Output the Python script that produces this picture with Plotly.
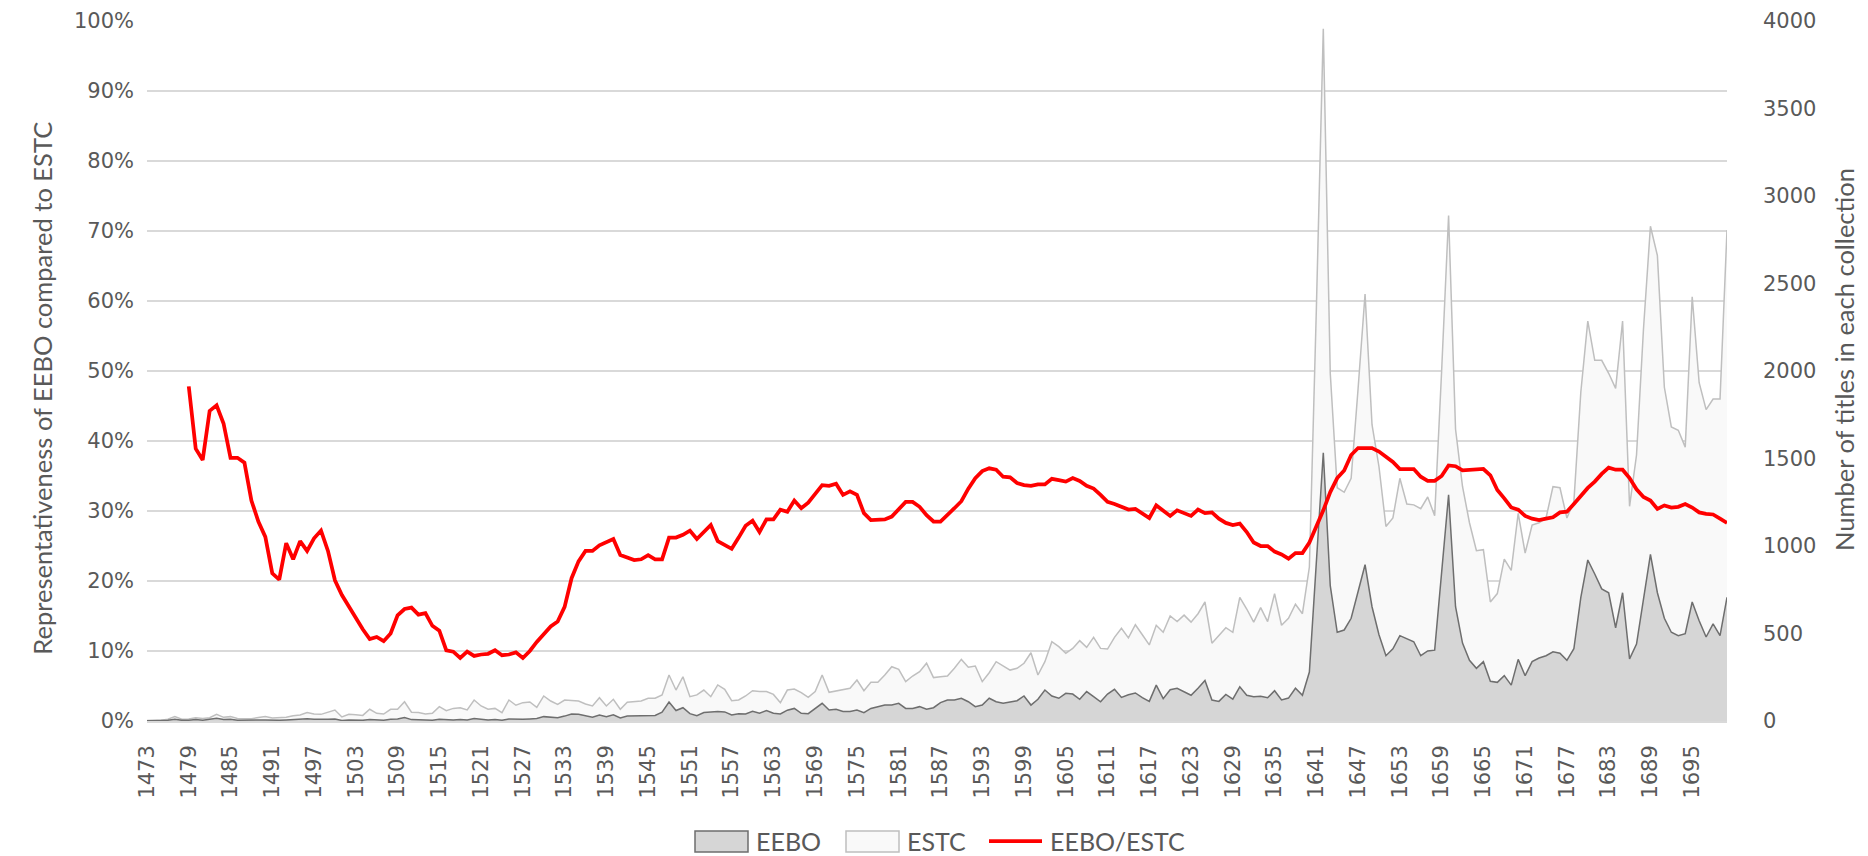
import plotly.graph_objects as go

# ---------------- data ----------------
years = list(range(1473, 1701))

# ESTC titles per year (right axis)
estc = [
    3, 3, 5, 10, 25, 10, 12,                                   # 1473-1479
    19, 15, 19, 38, 21, 25, 15, 13, 13, 20,                    # 1480s
    25, 17, 17, 21, 30, 34, 48, 40, 38, 50,                    # 1490s
    63, 23, 38, 36, 32, 67, 44, 40, 67, 67,                    # 1500s
    110, 50, 48, 40, 44, 82, 59, 72, 76, 63,                   # 1510s
    120, 86, 67, 72, 48, 120, 90, 105, 109, 78,                # 1520s
    143, 114, 95, 120, 116, 114, 97, 86, 133, 86,              # 1530s
    124, 67, 107, 110, 114, 130, 130, 149, 263, 177,           # 1540s
    253, 139, 149, 177, 139, 206, 181, 116, 120, 143,          # 1550s
    173, 168, 168, 152, 105, 177, 183, 162, 135, 168,          # 1560s
    263, 164, 173, 181, 187, 234, 173, 221, 221, 263,          # 1570s
    310, 295, 225, 257, 282, 330, 248, 253, 257, 301,          # 1580s
    352, 307, 314, 225, 276, 339, 314, 291, 301, 330,          # 1590s
    390, 263, 339, 453, 425, 387, 415, 459, 421, 478,          # 1600s
    415, 411, 478, 530, 475, 550, 493, 435, 547, 507,          # 1610s
    600, 568, 605, 565, 613, 680, 445, 488, 533, 507,          # 1620s
    707, 640, 565, 648, 568, 728, 547, 587, 667, 613,          # 1630s
    880, 2350, 3955, 1987, 1333, 1307, 1387, 1900, 2440, 1693, # 1640s
    1453, 1112, 1160, 1387, 1240, 1235, 1213, 1280, 1173, 2000,# 1650s
    2888, 1667, 1340, 1133, 973, 979, 680, 728, 925, 861,      # 1660s
    1187, 960, 1120, 1133, 1160, 1339, 1333, 1160, 1253, 1880, # 1670s
    2285, 2061, 2061, 1987, 1901, 2285, 1227, 1520, 2240, 2827,# 1680s
    2659, 1907, 1680, 1661, 1565, 2424, 1933, 1779, 1840, 1840,# 1690s
    2805,                                                      # 1700
]

# EEBO titles per year (right axis)
eebo = [
    2, 2, 3, 5, 10, 4, 5,                                      # 1473-1479
    8, 5, 8, 15, 8, 10, 5, 4, 4, 6,                            # 1480s
    6, 4, 4, 6, 8, 9, 13, 10, 9, 10,                           # 1490s
    12, 3, 6, 5, 4, 8, 5, 5, 10, 12,                           # 1500s
    20, 8, 7, 6, 5, 10, 6, 6, 8, 6,                            # 1510s
    14, 8, 6, 8, 5, 12, 9, 10, 12, 14,                         # 1520s
    25, 20, 18, 28, 40, 38, 28, 22, 34, 25,                    # 1530s
    35, 17, 28, 30, 28, 34, 32, 50, 108, 60,                   # 1540s
    76, 42, 30, 48, 50, 55, 52, 34, 42, 40,                    # 1550s
    55, 44, 60, 44, 40, 62, 72, 44, 42, 72,                    # 1560s
    101, 63, 67, 55, 55, 63, 48, 72, 82, 91,                   # 1570s
    91, 101, 72, 72, 82, 67, 76, 105, 120, 120,                # 1580s
    130, 110, 82, 91, 130, 110, 101, 110, 116, 143,            # 1590s
    91, 124, 177, 143, 130, 158, 154, 124, 168, 139,           # 1600s
    110, 154, 181, 135, 150, 160, 133, 112, 205, 128,          # 1610s
    179, 187, 168, 147, 187, 232, 120, 112, 152, 125,          # 1620s
    195, 147, 139, 141, 133, 173, 120, 131, 187, 147,          # 1630s
    280, 900, 1533, 773, 507, 520, 587, 740, 893, 653,         # 1640s
    493, 373, 413, 488, 472, 453, 373, 400, 405, 850,          # 1650s
    1293, 653, 445, 347, 301, 339, 227, 221, 259, 205,         # 1660s
    352, 259, 339, 360, 373, 395, 387, 347, 413, 707,          # 1670s
    920, 840, 755, 733, 533, 733, 355, 440, 707, 952,          # 1680s
    733, 587, 507, 488, 499, 680, 573, 480, 555, 488,          # 1690s
    707,                                                       # 1700
]

# EEBO/ESTC representativeness in % (left axis); no value before 1479
ratio_pct = [
    None, None, None, None, None, None, 47.8,                              # 1473-1479
    38.9, 37.3, 44.3, 45.1, 42.5, 37.6, 37.6, 36.9, 31.5, 28.5,            # 1480s
    26.3, 21.1, 20.2, 25.4, 23.1, 25.7, 24.3, 26.1, 27.2, 24.3,            # 1490s
    20.1, 18.0, 16.3, 14.7, 13.1, 11.7, 12.0, 11.4, 12.5, 15.1,            # 1500s
    16.0, 16.2, 15.2, 15.4, 13.6, 12.9, 10.1, 9.9, 9.0, 9.9,               # 1510s
    9.3, 9.5, 9.6, 10.1, 9.4, 9.5, 9.8, 9.0, 10.0, 11.3,                   # 1520s
    12.4, 13.5, 14.2, 16.3, 20.4, 22.8, 24.3, 24.3, 25.1, 25.6,            # 1530s
    26.0, 23.7, 23.3, 23.0, 23.1, 23.7, 23.1, 23.1, 26.2, 26.2,            # 1540s
    26.6, 27.2, 26.0, 27.0, 28.0, 25.7, 25.2, 24.6, 26.2, 27.9,            # 1550s
    28.6, 27.0, 28.8, 28.8, 30.2, 29.9, 31.5, 30.4, 31.2, 32.5,            # 1560s
    33.7, 33.6, 33.9, 32.3, 32.8, 32.3, 29.7, 28.7, 28.8, 28.8,            # 1570s
    29.2, 30.2, 31.3, 31.3, 30.6, 29.4, 28.5, 28.5, 29.4, 30.4,            # 1580s
    31.4, 33.2, 34.7, 35.7, 36.1, 35.9, 34.9, 34.8, 34.0, 33.7,            # 1590s
    33.6, 33.8, 33.8, 34.6, 34.4, 34.2, 34.7, 34.3, 33.6, 33.2,            # 1600s
    32.3, 31.3, 31.0, 30.6, 30.2, 30.3, 29.7, 29.0, 30.8, 30.0,            # 1610s
    29.3, 30.1, 29.7, 29.3, 30.2, 29.7, 29.8, 28.9, 28.3, 28.0,            # 1620s
    28.2, 27.0, 25.5, 25.0, 25.0, 24.2, 23.8, 23.2, 24.0, 24.0,            # 1630s
    25.5, 27.7, 30.1, 32.7, 34.7, 35.8, 38.0, 39.0, 39.0, 39.0,            # 1640s
    38.5, 37.8, 37.0, 36.0, 36.0, 36.0, 34.9, 34.3, 34.3, 35.0,            # 1650s
    36.5, 36.4, 35.8, 35.9, 36.0, 36.0, 35.1, 33.0, 31.8, 30.5,            # 1660s
    30.2, 29.3, 28.9, 28.7, 28.9, 29.1, 29.8, 29.9, 31.0, 32.2,            # 1670s
    33.3, 34.2, 35.3, 36.2, 35.9, 35.9, 34.7, 33.1, 32.0, 31.5,            # 1680s
    30.3, 30.8, 30.5, 30.6, 31.0, 30.5, 29.8, 29.6, 29.5, 28.9,            # 1690s
    28.3,                                                                  # 1700
]

x_tick_years = list(range(1473, 1700, 6))
pct_ticks = list(range(0, 101, 10))
pct_labels = [f"{v}%" for v in pct_ticks]
count_ticks = list(range(0, 4001, 500))

series_names = ["EEBO", "ESTC", "EEBO/ESTC"]

TEXT = "#595959"
TICK_FONT = dict(family="DejaVu Sans", size=21, color=TEXT)
TITLE_FONT = dict(family="Lato", size=25.5, color=TEXT)
LEGEND_FONT = dict(family="Lato", size=25, color=TEXT)

EEBO_LINE, EEBO_FILL = "#6e6e6e", "#d6d6d6"
ESTC_LINE, ESTC_FILL = "#bfbfbf", "#f9f9f9"
RATIO_COLOR = "#ff0000"

# plot area in page pixels (used to place the hand-drawn legend)
L, R, T, B, W, H = 147, 141, 21, 135, 1868, 856
PW, PH = W - L - R, H - T - B


def px_x(px):
    return (px - L) / PW


def px_y(py):
    return (H - B - py) / PH


fig = go.Figure()
fig.add_trace(go.Scatter(
    x=years, y=estc, name=series_names[1], mode="lines",
    line=dict(color=ESTC_LINE, width=1.5),
    fill="tozeroy", fillcolor=ESTC_FILL,
    xaxis="x", yaxis="y", hoverinfo="skip", showlegend=False,
))
fig.add_trace(go.Scatter(
    x=years, y=eebo, name=series_names[0], mode="lines",
    line=dict(color=EEBO_LINE, width=1.5),
    fill="tozeroy", fillcolor=EEBO_FILL,
    xaxis="x", yaxis="y", hoverinfo="skip", showlegend=False,
))
fig.add_trace(go.Scatter(
    x=years, y=ratio_pct, name=series_names[2], mode="lines",
    line=dict(color=RATIO_COLOR, width=3.75),
    xaxis="x", yaxis="y2", hoverinfo="skip", showlegend=False,
))

# legend drawn as swatches + text below the axis
leg_y = px_y(841)
shapes = [
    dict(type="rect", xref="paper", yref="paper",
         x0=px_x(695), x1=px_x(748), y0=px_y(831), y1=px_y(852),
         fillcolor=EEBO_FILL, line=dict(color=EEBO_LINE, width=1.5)),
    dict(type="rect", xref="paper", yref="paper",
         x0=px_x(846), x1=px_x(899), y0=px_y(831), y1=px_y(852),
         fillcolor=ESTC_FILL, line=dict(color=ESTC_LINE, width=1.5)),
    dict(type="line", xref="paper", yref="paper",
         x0=px_x(989), x1=px_x(1042), y0=leg_y, y1=leg_y,
         line=dict(color=RATIO_COLOR, width=3.75)),
]
legend_text = [
    dict(text=series_names[0], x=px_x(754)),
    dict(text=series_names[1], x=px_x(905)),
    dict(text=series_names[2], x=px_x(1048)),
]
annotations = [
    dict(text=t["text"], xref="paper", yref="paper", x=t["x"], y=leg_y,
         xanchor="left", yanchor="middle", showarrow=False, font=LEGEND_FONT)
    for t in legend_text
]
annotations += [
    dict(text="Representativeness of EEBO compared to ESTC",
         xref="paper", yref="paper", x=-0.0665, y=0.476,
         xanchor="center", yanchor="middle", textangle=-90,
         showarrow=False, font=TITLE_FONT),
    dict(text="Number of titles in each collection",
         xref="paper", yref="paper", x=1.074, y=0.517,
         xanchor="center", yanchor="middle", textangle=-90,
         showarrow=False, font=TITLE_FONT),
]

fig.update_layout(
    width=W, height=H,
    paper_bgcolor="white", plot_bgcolor="white",
    margin=dict(l=L, r=R, t=T, b=B, autoexpand=False),
    showlegend=False,
    xaxis=dict(
        range=[1473, 1700], tickmode="array", tickvals=x_tick_years,
        ticktext=[str(v) for v in x_tick_years], tickangle=-90,
        showgrid=False, zeroline=False, showline=True,
        linecolor="#d9d9d9", linewidth=1.5, ticks="",
        tickfont=TICK_FONT, ticklabelstandoff=14, automargin=False,
    ),
    yaxis=dict(
        range=[0, 4000], side="right", tickmode="array", tickvals=count_ticks,
        showgrid=False, zeroline=False, showline=False, ticks="",
        tickfont=TICK_FONT, ticklabelstandoff=35, automargin=False,
    ),
    yaxis2=dict(
        range=[0, 100], overlaying="y", side="left", tickmode="array",
        tickvals=pct_ticks, ticktext=pct_labels,
        showgrid=True, gridcolor="#d9d9d9", gridwidth=1.5,
        zeroline=False, showline=False, ticks="",
        tickfont=TICK_FONT, ticklabelstandoff=12, automargin=False,
    ),
    shapes=shapes,
    annotations=annotations,
)

# remove the browser's default 8px page margin so the figure sits at (0, 0)
fig.write_html(
    "out.html",
    config={"displayModeBar": False},
    post_script="document.body.style.margin='0';",
)
